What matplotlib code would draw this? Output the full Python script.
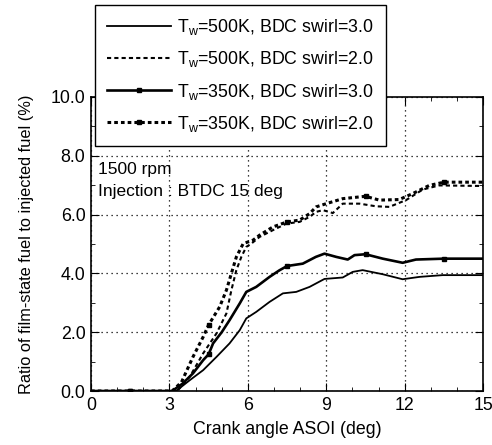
#!/usr/bin/env python3
# Film-state fuel ratio vs crank angle, four wall temp / swirl cases
import numpy as np
import matplotlib
matplotlib.use('Agg')
from matplotlib import pyplot as plt

plt.rcParams['font.family'] = ['Liberation Sans', 'DejaVu Sans']

# Tw=350K, BDC swirl=3.0 (thick solid, markers)
x_350_s3 = [0, 1.5, 3.1, 3.5, 3.9, 4.29, 4.5, 4.67, 5.0, 5.3, 5.69, 5.94, 6.32, 6.83,
            7.2, 7.5, 8.1, 8.6, 8.93, 9.38, 9.82, 10.08, 10.5, 11.16, 11.92, 12.43, 13.5, 15]
y_350_s3 = [0, 0, 0, 0.25, 0.6, 1.05, 1.25, 1.62, 2.0, 2.41, 2.98, 3.37, 3.54, 3.88,
            4.1, 4.25, 4.33, 4.56, 4.67, 4.56, 4.47, 4.62, 4.65, 4.5, 4.36, 4.47, 4.5, 4.5]

# Tw=500K, BDC swirl=3.0 (thin solid)
x_500_s3 = [0, 3.25, 3.78, 4.29, 4.8, 5.3, 5.69, 5.94, 6.32, 6.83, 7.34, 7.85, 8.36,
            8.93, 9.63, 10.01, 10.39, 11.16, 11.92, 12.56, 13.45, 15]
y_500_s3 = [0, 0, 0.37, 0.71, 1.16, 1.62, 2.07, 2.47, 2.69, 3.03, 3.32, 3.37, 3.54,
            3.81, 3.86, 4.05, 4.11, 3.97, 3.8, 3.88, 3.94, 3.94]

# Tw=350K, BDC swirl=2.0 (thick dotted, markers)
x_350_s2 = [0, 1.5, 3.1, 3.46, 3.9, 4.29, 4.5, 4.92, 5.18, 5.37, 5.56, 5.82, 6.2, 6.45,
            6.96, 7.5, 7.98, 8.36, 8.61, 9.0, 9.63, 10.5, 11.03, 11.79, 12.3, 12.94, 13.5, 15]
y_350_s2 = [0, 0, 0, 0.3, 1.16, 1.84, 2.25, 2.86, 3.43, 4.0, 4.56, 5.01, 5.13, 5.3,
            5.58, 5.75, 5.81, 6.03, 6.26, 6.37, 6.54, 6.62, 6.49, 6.51, 6.71, 6.99, 7.1, 7.1]

# Tw=500K, BDC swirl=2.0 (thin dotted)
x_500_s2 = [0, 3.3, 3.78, 4.29, 4.8, 5.18, 5.37, 5.56, 5.75, 5.94, 6.13, 6.45, 6.96,
            7.47, 7.98, 8.36, 8.61, 8.87, 9.25, 9.63, 10.27, 10.9, 11.41, 12.05, 12.69, 13.32, 15]
y_500_s2 = [0, 0, 0.49, 1.28, 1.96, 2.64, 3.43, 4.11, 4.56, 4.9, 5.01, 5.24, 5.47,
            5.69, 5.75, 5.92, 6.09, 6.15, 6.05, 6.37, 6.37, 6.28, 6.26, 6.49, 6.85, 6.99, 6.97]

marker_x = [1.5, 4.5, 7.5, 10.5, 13.5]

labels = [r'T$_{\mathregular{w}}$=500K, BDC swirl=3.0',
          r'T$_{\mathregular{w}}$=500K, BDC swirl=2.0',
          r'T$_{\mathregular{w}}$=350K, BDC swirl=3.0',
          r'T$_{\mathregular{w}}$=350K, BDC swirl=2.0']

fig = plt.figure(figsize=(4.92, 4.45), dpi=100)
ax = fig.add_axes([0.185, 0.1213, 0.797, 0.661])


def marks(xs):
    return list(np.where(np.isin(np.array(xs), marker_x))[0])


ax.plot(x_500_s3, y_500_s3, color='k', lw=1.3, label=labels[0])
ax.plot(x_500_s2, y_500_s2, color='k', lw=1.5, linestyle=(0, (2, 1.5)), label=labels[1])
ax.plot(x_350_s3, y_350_s3, color='k', lw=1.9, marker='s', ms=3,
        markevery=marks(x_350_s3), label=labels[2])
ax.plot(x_350_s2, y_350_s2, color='k', lw=2.2, linestyle=(0, (1.2, 1.0)), marker='s', ms=3,
        markevery=marks(x_350_s2), label=labels[3])

ax.set_xlim(0, 15)
ax.set_ylim(0, 10)
ax.set_xticks(np.arange(0, 16, 3))
ax.set_xticks([v for v in range(16) if v % 3 != 0], minor=True)
ax.set_yticks(np.arange(0, 11, 2))
ax.set_yticks([1, 3, 5, 7, 9], minor=True)
ax.set_yticklabels(['%.1f' % v for v in np.arange(0, 11, 2)])
ax.tick_params(which='both', direction='in', top=True, right=True, labelsize=12.8, colors='k')
ax.tick_params(which='major', length=6, pad=4)
ax.tick_params(which='minor', length=3)
ax.grid(True, which='major', color='k', linestyle=(0, (1, 3)), linewidth=0.9)
for s in ax.spines.values():
    s.set_linewidth(1.2)

ax.set_xlabel('Crank angle ASOI (deg)', fontsize=12.8, labelpad=5)
ax.set_ylabel('Ratio of film-state fuel to injected fuel (%)', fontsize=11.8, labelpad=12)

ax.text(0.018, 0.752, '1500 rpm', transform=ax.transAxes, fontsize=12.5, va='center')
ax.text(0.018, 0.680, 'Injection : BTDC 15 deg', transform=ax.transAxes, fontsize=12.5,
        va='center', zorder=5)

leg = fig.legend(loc='upper left', bbox_to_anchor=(0.193, 0.989), fontsize=12.8,
                 handlelength=3.6, handletextpad=0.3, labelspacing=0.68,
                 borderpad=0.7, borderaxespad=0, fancybox=False, framealpha=1, edgecolor='k')
leg.get_frame().set_linewidth(1.0)

fig.savefig('out.png', dpi=100)
